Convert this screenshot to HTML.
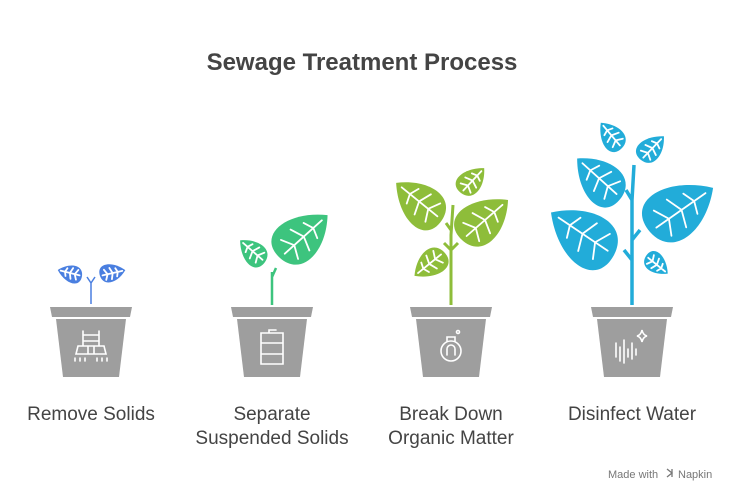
<!DOCTYPE html>
<html><head><meta charset="utf-8"><style>
body{margin:0;background:#fff;width:739px;height:498px;overflow:hidden;font-family:"Liberation Sans",sans-serif}
</style></head><body>
<svg width="739" height="498" viewBox="0 0 739 498" xmlns="http://www.w3.org/2000/svg">
<defs>
<g id="leaf">
<path d="M0,0 C-0.05,-0.5 0.55,-0.5 1,0 C0.6,0.42 0.05,0.45 0,0Z"/>
<path d="M0.1,0 L0.88,0 M0.3,0 L0.2,-0.2 M0.5,0 L0.42,-0.22 M0.7,0 L0.64,-0.16 M0.3,0 L0.2,0.2 M0.5,0 L0.42,0.22 M0.7,0 L0.64,0.16" stroke="#fff" stroke-width="1.8" fill="none" vector-effect="non-scaling-stroke" stroke-linecap="round"/>
</g>
<g id="pot">
<path d="M-41,-5 H41 L39,5 H-39Z" fill="#9e9e9e"/>
<path d="M-35,7 H35 L28,65 H-28Z" fill="#9e9e9e"/>
</g>
</defs>
<text x="362" y="70" text-anchor="middle" font-size="24" font-weight="bold" fill="#444">Sewage Treatment Process</text>

<g fill="#4a7fe0">
<path d="M91,304 V283 M91,283 L87,277 M91,283 L95,277" stroke="#4a7fe0" stroke-width="1.5" fill="none"/>
<use href="#leaf" transform="translate(82,276) rotate(194) scale(25)"/>
<use href="#leaf" transform="translate(100,276) rotate(-13) scale(26)"/>
</g>
<g fill="#3dc47e">
<path d="M272,305 V272 M272,277 L276,268" stroke="#3dc47e" stroke-width="2.5" fill="none"/>
<use href="#leaf" transform="translate(265,262) rotate(221) scale(33)"/>
<use href="#leaf" transform="translate(280,258) rotate(-42) scale(64)"/>
</g>
<g fill="#8ebd3a">
<path d="M451,305 V235 L453,205 M451,250 L444,243 M451,250 L458,243 M451,230 L446,223" stroke="#8ebd3a" stroke-width="3" fill="none"/>
<use href="#leaf" transform="translate(442,220) rotate(219) scale(59)"/>
<use href="#leaf" transform="translate(461,193) rotate(-47) scale(34)"/>
<use href="#leaf" transform="translate(462,240) rotate(-41) scale(61)"/>
<use href="#leaf" transform="translate(444,252) rotate(141) scale(38)"/>
</g>
<g fill="#22acd9">
<path d="M632,305 V200 L634,165 M632,260 L624,250 M632,240 L640,230 M632,200 L626,190" stroke="#22acd9" stroke-width="3.5" fill="none"/>
<use href="#leaf" transform="translate(622,148) rotate(230) scale(33)"/>
<use href="#leaf" transform="translate(641,160) rotate(-46) scale(33)"/>
<use href="#leaf" transform="translate(621,198) rotate(222) scale(59)"/>
<use href="#leaf" transform="translate(614,255) rotate(214) scale(76)"/>
<use href="#leaf" transform="translate(650,232) rotate(-35) scale(77)"/>
<use href="#leaf" transform="translate(646,256) rotate(39) scale(28)"/>
</g>

<use href="#pot" transform="translate(91,312)"/>
<use href="#pot" transform="translate(272,312)"/>
<use href="#pot" transform="translate(451,312)"/>
<use href="#pot" transform="translate(632,312)"/>

<g stroke="#fff" stroke-width="1.6" fill="none" stroke-linecap="round">
<path d="M83,331 V346 M99,331 V346 M83,335 H99 M83,341 H99 M78,346 H104 L106,354 H76Z M88,346 V354 M94,346 V354 M75,358 V361 M80,358 V361 M85,358 V361 M97,358 V361 M102,358 V361 M107,358 V361"/>
<path d="M261,333 H283 V364 H261Z M261,343 H283 M261,354 H283 M269,333 V330 H276"/>
<circle cx="451" cy="351" r="10"/><path d="M447,341 V337 H455 V341"/>
<path d="M447,355 V349 a4,4 0 0 1 8,0 V355"/><circle cx="458" cy="332" r="1.5"/>
<path d="M616,343 V357 M620,347 V361 M624,340 V363 M628,349 V357 M632,343 V359 M636,349 V355"/>
<path d="M642,330 q1,5 5,6 q-4,1 -5,6 q-1,-5 -5,-6 q4,-1 5,-6Z"/>
</g>

<g font-size="19" fill="#444" text-anchor="middle">
<text x="91" y="420">Remove Solids</text>
<text x="272" y="420">Separate</text>
<text x="272" y="444">Suspended Solids</text>
<text x="451" y="420">Break Down</text>
<text x="451" y="444">Organic Matter</text>
<text x="632" y="420">Disinfect Water</text>
</g>
<text x="608" y="478" font-size="11" fill="#777">Made with</text>
<path d="M667,469 l5,4 l-5,4 M672,469 v8" stroke="#777" stroke-width="1.3" fill="none"/>
<text x="678" y="478" font-size="11" fill="#777">Napkin</text>
</svg>
</body></html>
